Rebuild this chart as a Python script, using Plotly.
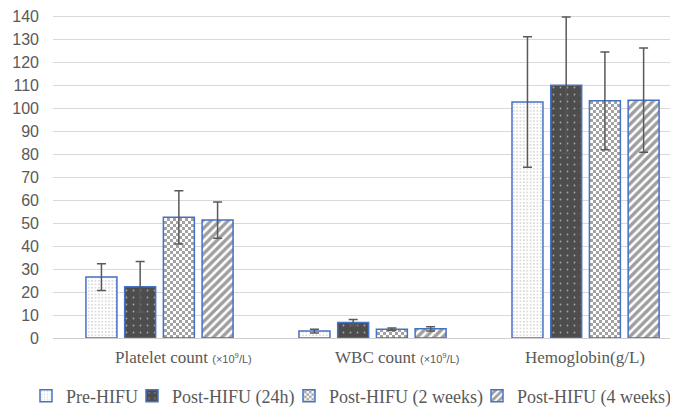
import plotly.graph_objects as go

categories = ["Platelet count", "WBC count", "Hemoglobin(g/L)"]
unit_labels = ["(×10<sup>9</sup>/L)", "(×10<sup>9</sup>/L)", ""]
series_names = ["Pre-HIFU", "Post-HIFU (24h)", "Post-HIFU (2 weeks)", "Post-HIFU (4 weeks)"]

pre_vals = [26.5, 3.0, 102.7]
pre_err = [5.8, 0.8, 28.4]
h24_vals = [22.3, 6.7, 110.0]
h24_err = [11.0, 1.4, 29.7]
w2_vals = [52.5, 3.8, 103.2]
w2_err = [11.6, 0.5, 21.3]
w4_vals = [51.3, 4.0, 103.5]
w4_err = [7.9, 0.9, 22.7]

y_ticks = list(range(0, 141, 10))

DARK = "#454545"
BLUE = "#4472C4"
GRAY_TXT = "#595959"

W, H = 670, 402  # page body has an 8px margin

checker = dict(shape=".", fgcolor=DARK, bgcolor="white", size=5, solidity=0.6)
try:
    go.bar.marker.Pattern(path="M0,0H3V3H0Z")
    s = 6
    h = s / 2
    checker = dict(path=f"M0,0H{h}V{h}H0Z M{h},{h}H{s}V{s}H{h}Z",
                   fgcolor=DARK, bgcolor="white", size=s, solidity=1)
except Exception:
    pass

patterns = [
    dict(shape=".", fgcolor="#999999", bgcolor="white", size=3.4, solidity=0.18),
    dict(shape=".", fgcolor="white", bgcolor="#4d4d4d", size=7, solidity=0.05),
    checker,
    dict(shape="/", fgcolor="#3d3d3d", bgcolor="white", size=6, solidity=0.58),
]

vals = [pre_vals, h24_vals, w2_vals, w4_vals]
errs = [pre_err, h24_err, w2_err, w4_err]
legend_ids = ["legend", "legend2", "legend3", "legend4"]
legend_symbol_x = [46, 152, 309, 497]  # page px of symbol centres

fig = go.Figure()
for name, v, e, p, lg in zip(series_names, vals, errs, patterns, legend_ids):
    fig.add_trace(go.Bar(
        name=name, x=categories, y=v, legend=lg,
        marker=dict(color="white", pattern=p, line=dict(color=BLUE, width=1.5)),
        error_y=dict(type="data", array=e, visible=True, color=GRAY_TXT,
                     thickness=1.5, width=4.5),
    ))

for c, u in zip(categories, unit_labels):
    txt = c
    if u:
        txt = c + " <span style='font-family:Liberation Sans;font-size:11px'>" + u + "</span>"
    fig.add_annotation(
        x=c, xref="x", y=0, yref="paper", yanchor="middle",
        yshift=-19, xshift=24 if u else -1, showarrow=False, text=txt,
        font=dict(family="Liberation Serif", size=17, color=GRAY_TXT),
    )

legend_common = dict(orientation="h", xref="container", yref="container",
                     xanchor="left", y=14 / H, yanchor="middle",
                     bgcolor="rgba(0,0,0,0)",
                     font=dict(family="Liberation Serif", size=18, color=GRAY_TXT),
                     itemwidth=30)
legend_layout = {}
for lg, sx in zip(legend_ids, legend_symbol_x):
    legend_layout[lg] = dict(legend_common, x=(sx - 8 - 20) / W)

fig.update_layout(
    width=W, height=H,
    margin=dict(l=45, r=0, t=6, b=72),
    paper_bgcolor="white", plot_bgcolor="white",
    barmode="group", bargap=0.273, bargroupgap=0.2,
    showlegend=True,
    xaxis=dict(range=[-0.5, 2.434], showticklabels=False, showgrid=False,
               showline=False, zeroline=False),
    yaxis=dict(range=[0, 141], tickvals=y_ticks, showgrid=True,
               gridcolor="#d9d9d9", gridwidth=1.3, zeroline=True,
               zerolinecolor="#cfcfcf", zerolinewidth=1.3, showline=False,
               ticks="", ticklabelstandoff=13, ticklabeloverflow="allow",
               tickfont=dict(family="Liberation Sans", size=16, color=GRAY_TXT)),
    **legend_layout,
)

fig.write_html("out.html")
